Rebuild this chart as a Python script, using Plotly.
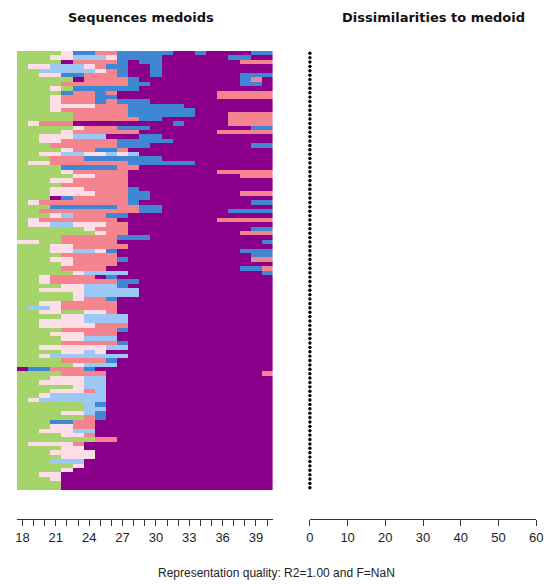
import plotly.graph_objects as go

# ---- data ----
ages = list(range(18, 41))  # 23 time points
states = ["G", "P", "L", "B", "S", "M"]
state_colors = ["#A5D46A", "#FDDDE6", "#9DC8F5", "#3F87D3", "#F4858E", "#8B008B"]

# medoid sequences, run-length coded (state + duration), top row first
sequences_rl = [
    "G4 P1 B2 S2 B5 M2 B1 M4 B2",
    "G3 P2 L3 P1 B4 M6 B2 M2",
    "G4 M1 S4 B1 M1 B2 M7 S3",
    "G1 P2 L3 P1 S1 B2 M2 B1 M10",
    "G2 L5 P1 S1 B1 M2 B1 M10",
    "G2 P2 B2 S3 B1 M2 B1 M7 B3",
    "G5 M1 S4 B1 M9 B1 S1 M1",
    "G4 S6 B2 M8 B2 M1",
    "G3 P1 G1 B6 M12",
    "G4 B1 S2 B1 S1 M9 S5",
    "G3 P1 S3 B2 M9 S5",
    "G3 P1 S3 B1 S1 B3 M11",
    "G3 P4 S3 B5 M8",
    "G3 P1 S6 B6 M7",
    "G5 S5 B6 M3 S4",
    "G5 S6 B2 M6 S4",
    "G1 P1 S3 M9 B1 M4 S4",
    "G5 P1 S3 B3 M9 B2",
    "G4 P1 S6 M7 S5",
    "G2 P3 L3 M3 B2 M10",
    "G2 P2 S5 B5 M9",
    "G3 S6 B3 M9 B2",
    "G4 P1 S2 B2 S1 M13",
    "G2 P2 L2 P2 L1 P1 L1 M12",
    "G3 S3 B7 M10",
    "G1 P2 S7 B6 M7",
    "G4 B5 S2 M12",
    "G4 P1 S5 M8 S5",
    "G5 P2 S3 M10 S3",
    "G3 P2 S5 M13",
    "G4 S6 M13",
    "G3 P3 S4 B1 M12",
    "G3 P4 S3 B2 M8 S3",
    "G3 M1 B1 S5 B2 M11",
    "G1 P1 S8 B1 M10 B2",
    "G3 B6 S2 B2 M10",
    "G2 S9 B2 M6 B4",
    "G3 P1 L1 S3 B2 M13",
    "G1 P1 S7 M9 S5",
    "G1 P2 L2 P3 S2 M13",
    "G6 P1 S3 M11 B2",
    "G7 P1 S2 M10 S3",
    "G4 S5 B3 M11",
    "P2 G2 S5 M13 B1",
    "G3 P2 S5 M13",
    "G3 P2 L2 P1 B1 M11 B3",
    "G4 S5 M12 B2",
    "G3 P2 S4 B1 M11 S2",
    "G4 P1 S4 M14",
    "G4 S4 M12 B2 S1",
    "G5 P1 L4 M12 B1",
    "G2 P1 S4 M1 B1 M14",
    "G2 P1 S6 B2 M12",
    "G4 P2 L3 B1 M13",
    "G2 P4 L5 M12",
    "G5 P1 L5 M12",
    "G5 P1 S2 B1 M14",
    "G2 P2 S5 M14",
    "G1 L2 P1 S5 M14",
    "G2 P2 G2 P2 S1 M14",
    "G4 P2 L4 M13",
    "G2 P4 L4 M13",
    "G2 P5 S3 M13",
    "G4 S5 B1 M13",
    "G3 P3 S3 M14",
    "G4 P2 L3 M14",
    "G4 S5 B1 M13",
    "G2 P6 L2 M13",
    "G4 P2 L1 P1 M15",
    "G2 P1 L7 M13",
    "G4 S4 B1 M14",
    "G5 P1 L3 M14",
    "M1 B2 S3 B1 M16",
    "G4 S4 M14 S1",
    "G3 P3 L2 M15",
    "G2 P4 L2 M15",
    "G5 P1 L2 M15",
    "G3 P3 S1 L1 M15",
    "G2 P1 L5 M15",
    "G1 P1 L6 M15",
    "G6 L1 B1 M15",
    "G6 L2 M15",
    "G4 P2 L1 B1 M15",
    "G6 S1 B1 M15",
    "G3 B2 S2 M16",
    "G3 P2 S2 M16",
    "G2 P3 L2 M16",
    "G4 P2 S1 M16",
    "G7 S2 M14",
    "G1 P4 S1 M17",
    "G4 P2 M17",
    "G3 P4 M16",
    "G4 P3 M16",
    "G3 L3 M17",
    "G5 P1 M17",
    "G4 P1 M18",
    "G2 P2 M19",
    "G3 P1 M19",
    "G4 M19",
    "G4 M19",
]

# dissimilarity of each sequence to its medoid
dissimilarities = [0] * len(sequences_rl)

dissim_ticks = [0, 10, 20, 30, 40, 50, 60]
age_ticks = [18, 21, 24, 27, 30, 33, 36, 39]

title_left = "Sequences medoids"
title_right = "Dissimilarities to medoid"
caption = "Representation quality: R2=1.00 and F=NaN"


# ---- build matrix ----
def expand(rl, n):
    out = []
    for tok in rl.split():
        out += [states.index(tok[0])] * int(tok[1:])
    out = out[:n]
    while len(out) < n:
        out.append(out[-1])
    return out


z = [expand(s, len(ages)) for s in sequences_rl]
rows = list(range(len(z)))

k = len(states)
colorscale = []
for i, c in enumerate(state_colors):
    colorscale.append([i / k, c])
    colorscale.append([(i + 1) / k, c])

# page body has an 8px margin; figure is sized to fill the 556x584 window
OFF = 8
W, H = 556 - OFF, 584 - OFF


def px_x(p):
    return (p - OFF) / W


def px_y(p):
    return 1 - (p - OFF) / H


fig = go.Figure()
fig.add_trace(go.Heatmap(
    x=ages, y=rows, z=z,
    zmin=-0.5, zmax=k - 0.5,
    colorscale=colorscale, showscale=False,
    xaxis="x", yaxis="y", hoverinfo="skip",
))
fig.add_trace(go.Scatter(
    x=dissimilarities, y=rows, mode="markers",
    marker=dict(color="black", size=3.4),
    xaxis="x2", yaxis="y2", cliponaxis=False, hoverinfo="skip",
))

ydom = [px_y(490), px_y(51)]
axis_pos = px_y(519)
tickfont = dict(family="Liberation Sans, Arial, sans-serif", size=13, color="#222")

fig.update_layout(
    width=W, height=H,
    margin=dict(l=0, r=0, t=0, b=0),
    paper_bgcolor="white", plot_bgcolor="white",
    showlegend=False,
    xaxis=dict(
        domain=[px_x(13), px_x(274)], range=[17.5, 40.5],
        anchor="free", position=axis_pos,
        tickmode="array", tickvals=age_ticks, ticktext=[str(a) for a in age_ticks],
        ticks="outside", ticklen=6, tickcolor="#333", tickwidth=1,
        minor=dict(tickmode="array", tickvals=ages, ticks="outside", ticklen=6,
                   tickcolor="#333", tickwidth=1),
        showline=True, linecolor="#333", linewidth=1,
        showgrid=False, zeroline=False, tickfont=tickfont,
    ),
    yaxis=dict(
        domain=ydom, range=[len(rows) - 0.5, -0.5],
        visible=False, showgrid=False, zeroline=False,
    ),
    xaxis2=dict(
        domain=[px_x(312), px_x(543)], range=[0, 60],
        anchor="free", position=axis_pos,
        tickmode="array", tickvals=dissim_ticks, ticktext=[str(v) for v in dissim_ticks],
        ticks="outside", ticklen=6, tickcolor="#333", tickwidth=1,
        showline=True, linecolor="#333", linewidth=1,
        showgrid=False, zeroline=False, tickfont=tickfont,
    ),
    yaxis2=dict(
        domain=ydom, range=[len(rows) - 0.5, -0.5], anchor="x2",
        visible=False, showgrid=False, zeroline=False,
    ),
    annotations=[
        dict(text="<b>%s</b>" % title_left, x=px_x(140), y=px_y(17), xref="paper", yref="paper",
             xanchor="center", yanchor="middle", showarrow=False,
             font=dict(family="DejaVu Sans, sans-serif", size=13, color="#111")),
        dict(text="<b>%s</b>" % title_right, x=px_x(438), y=px_y(17), xref="paper", yref="paper",
             xanchor="center", yanchor="middle", showarrow=False,
             font=dict(family="DejaVu Sans, sans-serif", size=13, color="#111")),
        dict(text=caption, x=px_x(278), y=px_y(573), xref="paper", yref="paper",
             xanchor="center", yanchor="middle", showarrow=False,
             font=dict(family="Liberation Sans, Arial, sans-serif", size=12, color="#222")),
    ],
)

fig.write_html("out.html")
